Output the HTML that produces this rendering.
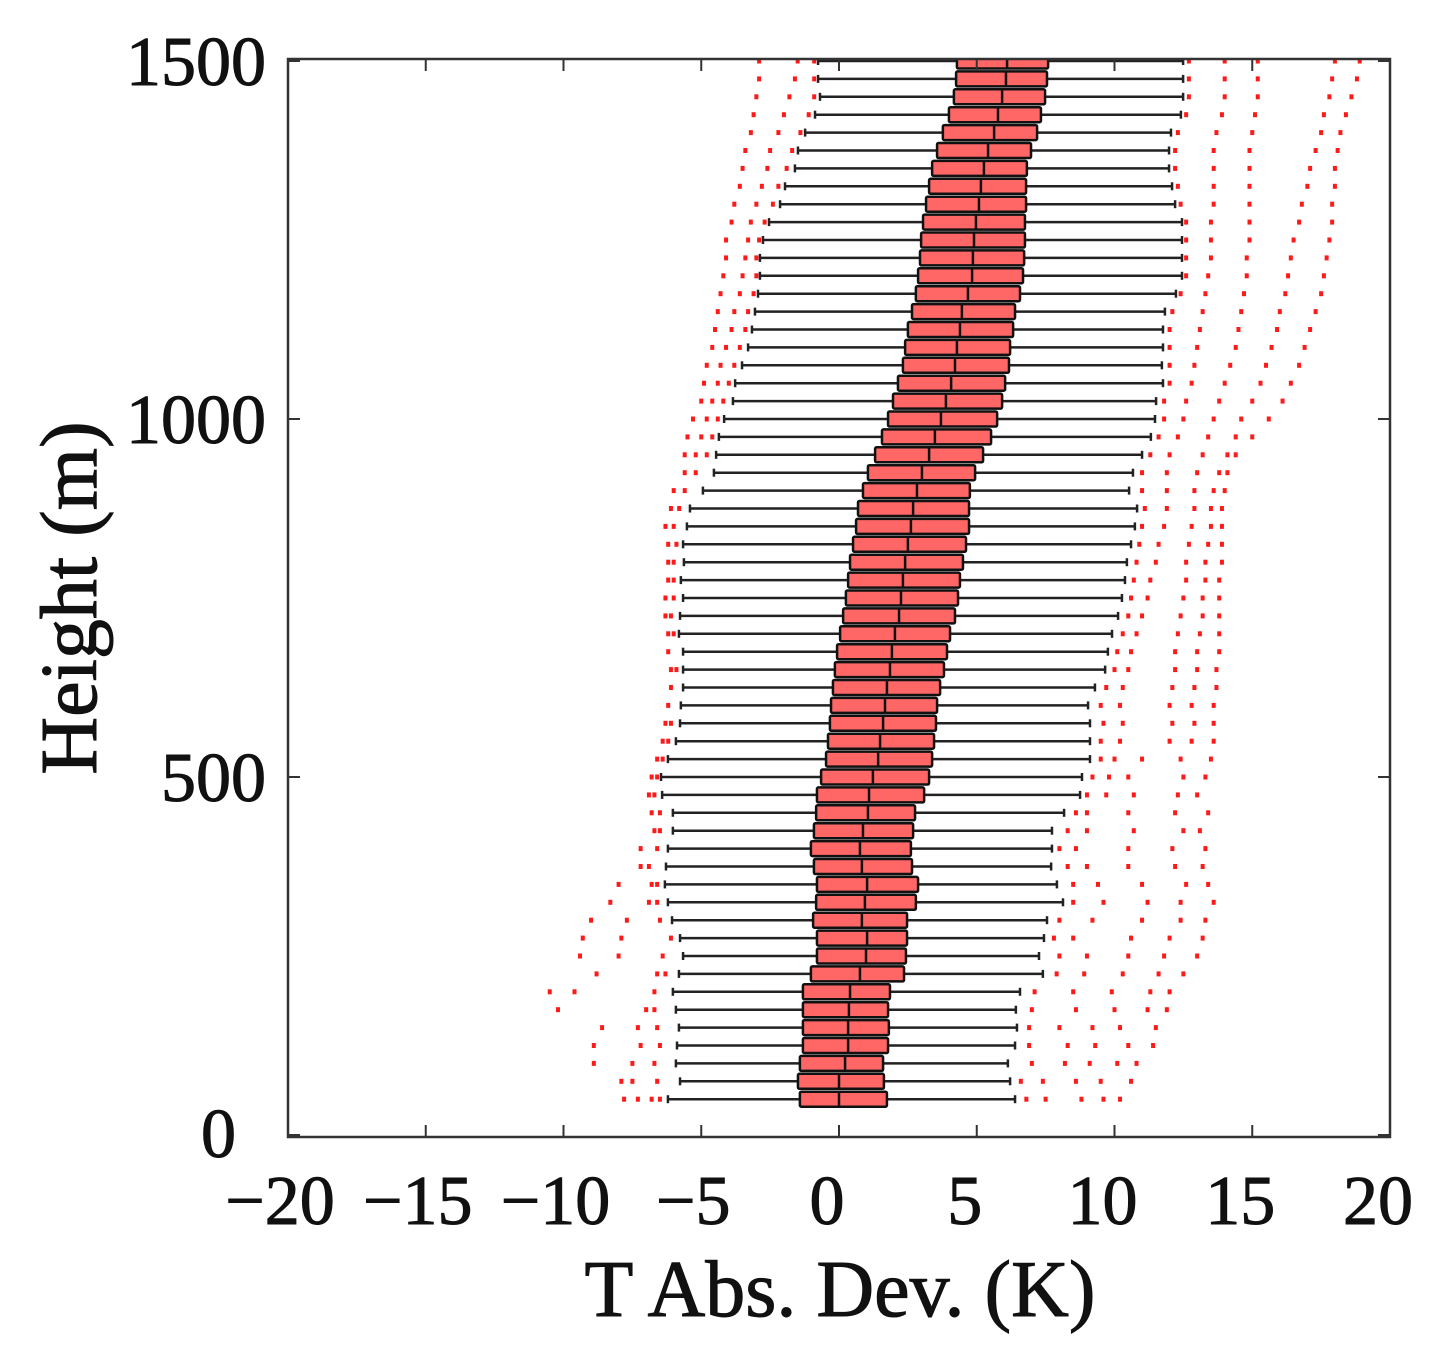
<!DOCTYPE html>
<html><head><meta charset="utf-8"><style>
html,body{margin:0;padding:0;background:#fff}
svg{display:block}
text{font-family:"Liberation Serif",serif;fill:#111;stroke:#111;stroke-width:1}
</style></head><body>
<svg id="chart" width="1446" height="1358" viewBox="0 0 1446 1358" xmlns="http://www.w3.org/2000/svg">
<g id="marks"></g>
<g id="axes"></g>
</svg>
<script>
const heights = [50,75,100,125,150,175,200,225,250,275,300,325,350,375,400,425,450,475,500,525,550,575,600,625,650,675,700,725,750,775,800,825,850,875,900,925,950,975,1000,1025,1050,1075,1100,1125,1150,1175,1200,1225,1250,1275,1300,1325,1350,1375,1400,1425,1450,1475,1500];
const q1 = [-1.42,-1.49,-1.42,-1.31,-1.31,-1.31,-1.31,-1.02,-0.80,-0.80,-0.94,-0.83,-0.80,-0.91,-1.02,-0.91,-0.83,-0.80,-0.65,-0.47,-0.40,-0.33,-0.29,-0.22,-0.15,-0.07,0.04,0.15,0.25,0.33,0.40,0.51,0.62,0.69,0.87,1.05,1.31,1.56,1.78,1.96,2.14,2.32,2.40,2.50,2.65,2.79,2.87,2.94,2.98,3.05,3.16,3.27,3.38,3.56,3.77,3.99,4.17,4.25,4.28];
const med = [0,0,0.22,0.33,0.33,0.36,0.40,0.76,0.98,1.02,0.83,0.94,1.02,0.83,0.76,0.87,1.05,1.09,1.23,1.42,1.49,1.60,1.67,1.74,1.85,1.92,2.03,2.18,2.25,2.32,2.40,2.50,2.61,2.69,2.83,3.01,3.27,3.48,3.70,3.88,4.07,4.21,4.28,4.39,4.46,4.68,4.83,4.86,4.90,4.97,5.08,5.15,5.26,5.41,5.63,5.77,5.92,6.06,6.10];
const q3 = [1.74,1.63,1.60,1.78,1.81,1.78,1.85,2.36,2.43,2.47,2.47,2.79,2.87,2.65,2.61,2.69,2.76,3.09,3.27,3.38,3.45,3.52,3.56,3.67,3.81,3.92,4.03,4.21,4.32,4.39,4.50,4.61,4.72,4.72,4.75,4.94,5.23,5.52,5.74,5.92,6.03,6.17,6.21,6.32,6.39,6.57,6.68,6.72,6.75,6.75,6.79,6.79,6.82,6.97,7.19,7.33,7.48,7.55,7.59];
const whiskLo = [-6.21,-5.77,-5.92,-5.88,-5.81,-5.92,-6.03,-5.81,-5.66,-5.77,-6.06,-6.21,-6.32,-6.28,-6.21,-6.03,-6.03,-6.42,-6.46,-6.21,-5.92,-5.77,-5.74,-5.66,-5.66,-5.66,-5.81,-5.77,-5.66,-5.74,-5.63,-5.66,-5.52,-5.41,-4.94,-4.54,-4.46,-4.36,-4.17,-3.85,-3.77,-3.52,-3.30,-3.16,-3.05,-2.94,-2.87,-2.87,-2.76,-2.54,-2.14,-1.96,-1.60,-1.49,-1.23,-0.87,-0.69,-0.76,-0.76];
const whiskHi = [6.39,6.21,6.13,6.39,6.46,6.42,6.57,7.40,7.26,7.44,7.55,8.13,7.91,7.70,7.73,7.73,8.17,8.75,8.82,9.11,9.11,9.11,9.04,9.29,9.66,9.76,9.91,10.13,10.27,10.38,10.45,10.60,10.74,10.82,10.53,10.67,11.00,11.32,11.47,11.51,11.76,11.72,11.76,11.76,11.83,12.23,12.45,12.45,12.45,12.45,12.20,12.09,11.98,11.98,12.05,12.41,12.49,12.49,12.49];
const outLo = [
[-7.8,-7.3,-6.8,-6.5],[-7.9,-7.5,-6.6],[-8.9,-7.5,-6.7],[-8.9,-7.2,-6.5],[-8.6,-7.3,-6.6],[-10.2,-7.0,-6.7],[-10.5,-9.6,-6.7],[-8.8,-6.6,-6.3],[-9.4,-8.0,-6.4],[-9.3,-7.9,-6.1],
[-9.0,-7.7,-6.5],[-8.3,-6.9,-6.6],[-8.0,-6.8,-6.6],[-7.2,-6.9],[-7.2,-6.6],[-6.7,-6.5],[-6.8,-6.5],[-6.9,-6.7],[-6.8,-6.6],[-6.6,-6.4],
[-6.4,-6.2],[-6.3,-6.1],[-6.2],[-6.1],[-6.1,-5.9],[-6.2],[-6.2,-6.0],[-6.3,-6.1],[-6.3,-6.0],[-6.2,-6.0],
[-6.2,-6.0],[-6.2,-5.9],[-6.3,-6.0],[-6.1,-5.8],[-6.0,-5.6],[-5.6,-5.2],[-5.6,-5.2,-4.8],[-5.5,-5.0,-4.6],[-5.3,-4.8,-4.4],[-5.0,-4.6,-4.2],
[-4.9,-4.4,-4.0],[-4.8,-4.3,-3.8],[-4.6,-4.1,-3.6],[-4.5,-3.9,-3.4],[-4.4,-3.8,-3.3],[-4.3,-3.6,-3.1],[-4.2,-3.5,-3.0],[-4.1,-3.4,-3.0],[-4.1,-3.3,-2.9],[-3.9,-3.2,-2.7],
[-3.8,-3.0,-2.4],[-3.6,-2.8,-2.2],[-3.5,-2.6,-1.9],[-3.4,-2.5,-1.7],[-3.2,-2.2,-1.4],[-3.1,-2.0,-1.1],[-3.0,-1.8,-0.9],[-2.9,-1.6,-0.9],[-2.9,-1.5,-0.9]];
const outHi = [
[6.8,7.5,8.8,9.6,10.2],[6.6,7.4,8.6,9.5,10.6],[7.0,8.2,9.1,10.1,10.8],[6.9,8.3,9.3,10.5,11.4],[6.9,8.0,9.2,10.2,11.5],[7.0,8.6,10.0,11.2,11.9],[7.1,8.5,9.9,11.3,12.0],[7.9,8.9,10.3,11.6,12.5],[8.0,9.0,10.5,11.8,13.0],[7.8,8.5,10.6,12.0,13.2],
[8.0,9.2,11.0,12.4,13.3],[8.5,9.6,11.2,12.4,13.6],[8.5,9.4,11.0,12.6,13.4],[8.3,9.0,10.5,12.2,13.2],[8.0,8.6,10.5,12.1,13.3],[8.3,9.0,10.7,12.5,13.1],[8.6,9.0,10.5,12.2,13.4],[9.0,9.7,10.7,12.3,13.0],[9.2,9.8,10.5,12.5,13.3],[9.5,10.0,11.0,12.4,13.5],
[9.5,10.2,12.0,12.8,13.6],[9.6,10.3,12.1,12.9,13.6],[9.5,10.2,12.0,12.8,13.6],[9.7,10.3,12.1,12.9,13.7],[10.0,10.5,12.2,13.0,13.7],[10.1,10.6,12.2,13.0,13.8],[10.3,10.8,12.3,13.1,13.8],[10.5,11.0,12.4,13.2,13.8],[10.6,11.2,12.5,13.2,13.8],[10.7,11.3,12.6,13.3,13.8],
[10.8,11.5,12.6,13.3,13.9],[10.9,11.6,12.7,13.4,13.9],[11.0,11.8,12.8,13.5,13.9],[11.1,11.9,12.9,13.5,13.9],[11.0,11.9,12.9,13.6,14.0],[11.0,11.9,13.0,13.8,14.1],[11.3,12.0,13.2,14.1,14.4],[11.6,12.3,13.4,14.4,15.0],[11.8,12.5,13.6,14.6,15.6],[11.8,12.6,13.8,15.0,16.1],
[12.0,12.8,14.0,15.3,16.4],[12.0,12.9,14.2,15.5,16.7],[12.0,13.0,14.4,15.7,16.9],[12.0,13.1,14.5,15.9,17.1],[12.1,13.2,14.6,16.0,17.3],[12.4,13.3,14.7,16.2,17.5],[12.6,13.4,14.8,16.3,17.6],[12.6,13.5,14.8,16.4,17.7],[12.6,13.5,14.9,16.5,17.8],[12.6,13.5,14.9,16.7,17.9],
[12.4,13.6,14.9,16.8,17.9],[12.3,13.6,14.9,17.0,18.0],[12.2,13.6,14.9,17.1,18.0],[12.2,13.6,14.9,17.3,18.1],[12.3,13.7,15.0,17.5,18.2],[12.6,13.9,15.1,17.6,18.4],[12.7,14.0,15.2,17.8,18.6],[12.7,14.0,15.2,17.9,18.8],[12.7,14.0,15.2,18.0,18.9]];
const xTicks = [-20,-15,-10,-5,0,5,10,15,20];
const xTickLabels = ["\u221220","\u221215","\u221210","\u22125","0","5","10","15","20"];
const yTicks = [0,500,1000,1500];
const yTickLabels = ["0","500","1000","1500"];

const NS="http://www.w3.org/2000/svg";
const L=288,R=1390,T=59,B=1137;
const xMin=-20,xMax=20,yMin=0,yMax=1500;
const sx=v=>L+(v-xMin)/(xMax-xMin)*(R-L);
const sy=v=>1135-(v-yMin)/(yMax-yMin)*(1135-61);
function mk(tag,attrs,parent){const e=document.createElementNS(NS,tag);for(const k in attrs)e.setAttribute(k,attrs[k]);parent.appendChild(e);return e;}
const marks=document.getElementById('marks');
const axes=document.getElementById('axes');
const clip=mk('clipPath',{id:'pc'},document.getElementById('chart'));
mk('rect',{x:L,y:T,width:R-L,height:B-T},clip);
marks.setAttribute('clip-path','url(#pc)');
const bh=15;
heights.forEach((h,i)=>{
  const y=sy(h);
  const g=mk('g',{},marks);
  
  
  outLo[i].concat(outHi[i]).forEach(v=>{
    const d=mk('rect',{x:sx(v)-2,y:y-2.5,width:4,height:5,fill:'#ff1a1a'},g);
    
    
  });
  const w=mk('line',{x1:sx(whiskLo[i]),x2:sx(whiskHi[i]),y1:y,y2:y,stroke:'#222','stroke-width':2.5},g);
  
  
  [whiskLo[i],whiskHi[i]].forEach(v=>{mk('line',{x1:sx(v),x2:sx(v),y1:y-4,y2:y+4,stroke:'#222','stroke-width':2.5},g);});
  const b=mk('rect',{x:sx(q1[i]),y:y-bh/2,width:sx(q3[i])-sx(q1[i]),height:bh,fill:'#ff6666',stroke:'#111','stroke-width':2.5,rx:1.5},g);
  
  
  const m=mk('line',{x1:sx(med[i]),x2:sx(med[i]),y1:y-bh/2,y2:y+bh/2,stroke:'#111','stroke-width':2.5},g);
  
  
});
const frame=mk('rect',{x:L,y:T,width:R-L,height:B-T,fill:'none',stroke:'#333','stroke-width':2.5},axes);


xTicks.forEach((v,i)=>{
  const x=sx(v);
  mk('line',{x1:x,x2:x,y1:B,y2:B-12,stroke:'#333','stroke-width':2},axes);
  mk('line',{x1:x,x2:x,y1:T,y2:T+12,stroke:'#333','stroke-width':2},axes);
  const t=mk('text',{x:x-(v<0?8:12),y:1224,'text-anchor':'middle','font-size':70},axes);
  t.textContent=xTickLabels[i];
  
  
});
yTicks.forEach((v,i)=>{
  const y=sy(v);
  mk('line',{x1:L,x2:L+12,y1:y,y2:y,stroke:'#333','stroke-width':2},axes);
  mk('line',{x1:R,x2:R-12,y1:y,y2:y,stroke:'#333','stroke-width':2},axes);
  const t=mk('text',{x:i==0?236:266,y:y+(i==0?22:24),'text-anchor':'end','font-size':70},axes);
  t.textContent=yTickLabels[i];
  
  
});
const xt=mk('text',{x:840,y:1316,'text-anchor':'middle','font-size':80},axes);
xt.textContent='T Abs. Dev. (K)';


const yt=mk('text',{x:0,y:0,'text-anchor':'middle','font-size':80,transform:'translate(96,598) rotate(-90)'},axes);
yt.textContent='Height (m)';


</script>
</body></html>
